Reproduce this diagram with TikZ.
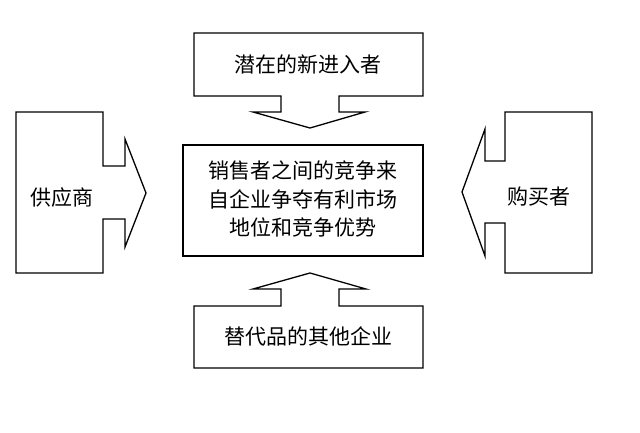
\documentclass[tikz,border=0pt]{standalone}
\usepackage{fontspec}
\newfontfamily\cjk{Noto Sans CJK SC}
\begin{document}
\begin{tikzpicture}[x=1pt, y=-1pt, line width=1.3pt, line join=miter, font=\cjk\fontsize{21}{28.5}\selectfont]
			\useasboundingbox (0,0) rectangle (640,433);
			% top: new entrants
			\draw (194,33)--(423,33)--(423,96)--(339,96)--(339,112)--(365,112)--(310,128)--(253,112)--(281,112)--(281,96)--(194,96)--cycle;
			\node (entrant) at (308,64) {潜在的新进入者};
			% left: suppliers
			\draw (16,112)--(103,112)--(103,166)--(125,166)--(125,139)--(146,193)--(125,247)--(125,219)--(103,219)--(103,273)--(16,273)--cycle;
			\node (supplier) at (62,198) {供应商};
			% right: buyers
			\draw (592,112)--(505,112)--(505,161)--(485,161)--(485,129)--(462,192)--(485,256)--(485,223)--(505,223)--(505,273)--(592,273)--cycle;
			\node (buyer) at (539,197) {购买者};
			% bottom: substitutes
			\draw (194,368)--(423,368)--(423,306)--(339,306)--(339,289)--(366,289)--(310,273)--(253,289)--(281,289)--(281,306)--(194,306)--cycle;
			\node (substitute) at (308,336) {替代品的其他企业};
			% centre
			\draw (183,145) rectangle (423,256);
			\node[align=center] (rivalry) at (303,199) {销售者之间的竞争来\\自企业争夺有利市场\\地位和竞争优势};
		\end{tikzpicture}
\end{document}
